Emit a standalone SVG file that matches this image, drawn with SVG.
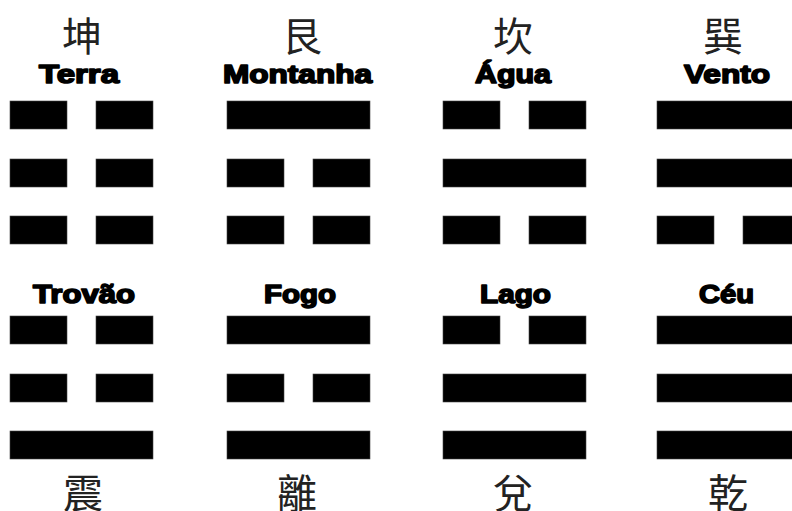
<svg xmlns="http://www.w3.org/2000/svg" xmlns:xlink="http://www.w3.org/1999/xlink" width="792" height="511" viewBox="0 0 792 511">
<style>
.lbl{font-family:"Liberation Sans",Arial,sans-serif;font-weight:bold;font-size:25px;fill:#000;stroke:#000;stroke-width:1.6px;stroke-linejoin:round}
.cjk{font-family:"Noto Sans CJK TC","Noto Sans CJK SC",sans-serif;font-size:40px;fill:#222;text-anchor:middle}
</style>
<defs>
<g id="solid"><rect x="0" y="0" width="143" height="28" fill="#000" stroke="#444" stroke-width="0.6"/></g>
<g id="broken"><rect x="0" y="0" width="57" height="28" fill="#000" stroke="#444" stroke-width="0.6"/><rect x="86" y="0" width="57" height="28" fill="#000" stroke="#444" stroke-width="0.6"/></g>
</defs>
<rect width="792" height="511" fill="#fff"/>
<g id="terra">
<text class="cjk" x="82" y="51">坤</text>
<text class="lbl" x="39" y="83" textLength="80" lengthAdjust="spacingAndGlyphs">Terra</text>
<use xlink:href="#broken" x="10" y="101"/><use xlink:href="#broken" x="10" y="159"/><use xlink:href="#broken" x="10" y="216"/>
</g>
<g id="montanha">
<text class="cjk" x="302" y="51">艮</text>
<text class="lbl" x="223" y="83" textLength="149" lengthAdjust="spacingAndGlyphs">Montanha</text>
<use xlink:href="#solid" x="227" y="101"/><use xlink:href="#broken" x="227" y="159"/><use xlink:href="#broken" x="227" y="216"/>
</g>
<g id="agua">
<text class="cjk" x="513" y="51">坎</text>
<text class="lbl" x="475" y="83" textLength="76" lengthAdjust="spacingAndGlyphs">Água</text>
<use xlink:href="#broken" x="443" y="101"/><use xlink:href="#solid" x="443" y="159"/><use xlink:href="#broken" x="443" y="216"/>
</g>
<g id="vento">
<text class="cjk" x="723" y="51">巽</text>
<text class="lbl" x="684" y="83" textLength="86" lengthAdjust="spacingAndGlyphs">Vento</text>
<use xlink:href="#solid" x="657" y="101"/><use xlink:href="#solid" x="657" y="159"/><use xlink:href="#broken" x="657" y="216"/>
</g>
<g id="trovao">
<text class="lbl" x="33" y="303" textLength="102" lengthAdjust="spacingAndGlyphs">Trovão</text>
<use xlink:href="#broken" x="10" y="316"/><use xlink:href="#broken" x="10" y="374"/><use xlink:href="#solid" x="10" y="431"/>
<text class="cjk" x="83" y="508">震</text>
</g>
<g id="fogo">
<text class="lbl" x="264" y="303" textLength="72" lengthAdjust="spacingAndGlyphs">Fogo</text>
<use xlink:href="#solid" x="227" y="316"/><use xlink:href="#broken" x="227" y="374"/><use xlink:href="#solid" x="227" y="431"/>
<text class="cjk" x="297" y="508">離</text>
</g>
<g id="lago">
<text class="lbl" x="480" y="303" textLength="71" lengthAdjust="spacingAndGlyphs">Lago</text>
<use xlink:href="#broken" x="443" y="316"/><use xlink:href="#solid" x="443" y="374"/><use xlink:href="#solid" x="443" y="431"/>
<text class="cjk" x="513" y="508">兌</text>
</g>
<g id="ceu">
<text class="lbl" x="699" y="303" textLength="55" lengthAdjust="spacingAndGlyphs">Céu</text>
<use xlink:href="#solid" x="657" y="316"/><use xlink:href="#solid" x="657" y="374"/><use xlink:href="#solid" x="657" y="431"/>
<text class="cjk" x="728" y="508">乾</text>
</g>
<g id="connectors"/>
</svg>
